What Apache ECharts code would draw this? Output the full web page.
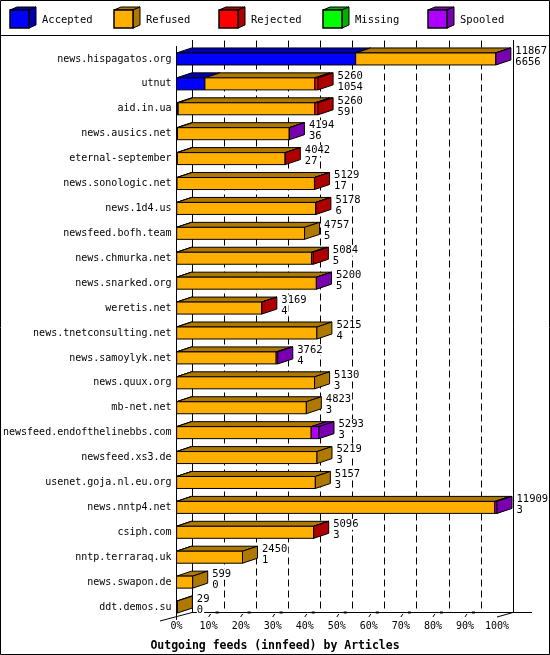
<!DOCTYPE html>
<html>
<head>
<meta charset="UTF-8">
<title>innfeed</title>
<script src="https://cdn.jsdelivr.net/npm/echarts@6/dist/echarts.min.js"></script>
<style>
  body { margin: 0; background: #fff; }
</style>
</head>
<body>
<div id="main" style="width:550px;height:655px;"></div>
<script>
// feeds, top to bottom
const hosts = [
  'news.hispagatos.org', 'utnut', 'aid.in.ua', 'news.ausics.net', 'eternal-september',
  'news.sonologic.net', 'news.1d4.us', 'newsfeed.bofh.team', 'news.chmurka.net',
  'news.snarked.org', 'weretis.net', 'news.tnetconsulting.net', 'news.samoylyk.net',
  'news.quux.org', 'mb-net.net', 'newsfeed.endofthelinebbs.com', 'newsfeed.xs3.de',
  'usenet.goja.nl.eu.org', 'news.nntp4.net', 'csiph.com', 'nntp.terraraq.uk',
  'news.swapon.de', 'ddt.demos.su'
]
// offered articles (first number on the right)
const offered = [11867, 5260, 5260, 4194, 4042, 5129, 5178, 4757, 5084, 5200, 3169, 5215,
  3762, 5130, 4823, 5293, 5219, 5157, 11909, 5096, 2450, 599, 29]
// stacked parts
const accepted = [6656, 1054, 59, 36, 27, 17, 6, 5, 5, 5, 4, 4, 4, 3, 3, 3, 3, 3, 3, 3, 1, 0, 0]
const refused = [5201, 4086, 5081, 4153, 4010, 5107, 5162, 4752, 5009, 5190, 3160, 5211,
  3698, 5127, 4820, 5000, 5216, 5154, 11826, 5088, 2449, 599, 29]
const rejected = [0, 120, 120, 0, 5, 5, 10, 0, 70, 0, 5, 0, 0, 0, 0, 0, 0, 0, 0, 5, 0, 0, 0]
const missing = [0, 0, 0, 0, 0, 0, 0, 0, 0, 0, 0, 0, 0, 0, 0, 0, 0, 0, 0, 0, 0, 0, 0]
const spooled = [10, 0, 0, 5, 0, 0, 0, 0, 0, 5, 0, 0, 60, 0, 0, 290, 0, 0, 80, 0, 0, 0, 0]

const segNames = ['Accepted', 'Refused', 'Rejected', 'Missing', 'Spooled']
const segValues = [accepted, refused, rejected, missing, spooled]
const frontColor = ['#0000FF', '#FFAF00', '#FF0000', '#00FF00', '#AF00FF']
const darkColor = ['#0000AF', '#AF7800', '#AF0000', '#00AF00', '#7800AF']

const FONT = 'DejaVu Sans Mono'
// depth of the bars
const DX = 15, DY = -5
const HALF = 6

const maxTotal = Math.max(...offered)
const pct = v => v / maxTotal * 100

// data per stacked series: [start%, end%, row, isLast]
const segData = segNames.map(() => [])
const endData = []
hosts.forEach((h, i) => {
  let last = 1
  segValues.forEach((vals, k) => { if (vals[i] > 0) last = k })
  let acc = 0
  segValues.forEach((vals, k) => {
    const v = vals[i]
    if (v > 0 || k === last) {
      segData[k].push([pct(acc), pct(acc + v), i, k === last ? 1 : 0])
    }
    acc += v
  })
  endData.push([pct(acc), i, offered[i], accepted[i]])
})

function renderSeg(k) {
  return function (params, api) {
    const s = api.coord([api.value(0), api.value(2)])
    const e = api.coord([api.value(1), api.value(2)])
    const y = s[1]
    const stroke = { stroke: '#000', lineWidth: 1 }
    const children = [
      {
        type: 'polygon',
        shape: { points: [[s[0], y - HALF], [s[0] + DX, y - HALF + DY], [e[0] + DX, y - HALF + DY], [e[0], y - HALF]] },
        style: Object.assign({ fill: darkColor[k] }, stroke)
      },
      {
        type: 'rect',
        shape: { x: s[0], y: y - HALF, width: e[0] - s[0], height: HALF * 2 },
        style: Object.assign({ fill: frontColor[k] }, stroke)
      }
    ]
    if (api.value(3) === 1) {
      children.push({
        type: 'polygon',
        shape: { points: [[e[0], y - HALF], [e[0] + DX, y - HALF + DY], [e[0] + DX, y + HALF + DY], [e[0], y + HALF]] },
        style: Object.assign({ fill: darkColor[k] }, stroke)
      })
    }
    return { type: 'group', children: children }
  }
}

const series = segNames.map((name, k) => ({
  name: name,
  type: 'custom',
  xAxisIndex: 0,
  yAxisIndex: 0,
  encode: { x: [0, 1], y: 2 },
  data: segData[k],
  renderItem: renderSeg(k)
}))

// numbers at the end of every bar (white box hides the grid lines)
series.push({
  type: 'custom',
  xAxisIndex: 0,
  yAxisIndex: 0,
  encode: { x: 0, y: 1 },
  data: endData,
  renderItem: function (params, api) {
    const p = api.coord([api.value(0), api.value(1)])
    const x = p[0] + DX + 4.5
    const font = '10.5px "' + FONT + '"'
    const lbl = (txt, yy) => ({
      type: 'text',
      style: {
        x: x, y: yy, text: txt, font: font, fill: '#000', verticalAlign: 'middle',
        backgroundColor: '#fff', padding: [0, 1, 0, 0]
      }
    })
    return {
      type: 'group',
      children: [lbl(String(api.value(2)), p[1] - 8), lbl(String(api.value(3)), p[1] + 3)]
    }
  }
})

// the little slanted ticks on the floor
series.push({
  type: 'custom',
  xAxisIndex: 0,
  yAxisIndex: 0,
  encode: { x: 0 },
  data: [10, 20, 30, 40, 50, 60, 70, 80, 90].map(v => [v, 0]),
  renderItem: function (params, api) {
    const p = api.coord([api.value(0), 0])
    const b = params.coordSys.y + params.coordSys.height
    return {
      type: 'group',
      children: [
        { type: 'line', shape: { x1: p[0], y1: b - 2.5, x2: p[0] + 2, y2: b - 5.5 }, style: { stroke: '#000', lineWidth: 1 } },
        { type: 'rect', shape: { x: p[0] + 7, y: b - 8, width: 3, height: 2 }, style: { fill: '#000' } }
      ]
    }
  }
})

// legend boxes, drawn by hand
const legendX = [10, 114, 219, 323, 428]
const legendGraphics = []
segNames.forEach((name, k) => {
  const x = legendX[k], y = 10, w = 19, h = 18, dx = 7, dy = -3
  legendGraphics.push(
    { type: 'polygon', shape: { points: [[x, y], [x + dx, y + dy], [x + w + dx, y + dy], [x + w, y]] }, style: { fill: darkColor[k], stroke: '#000', lineWidth: 1 } },
    { type: 'polygon', shape: { points: [[x + w, y], [x + w + dx, y + dy], [x + w + dx, y + h + dy], [x + w, y + h]] }, style: { fill: darkColor[k], stroke: '#000', lineWidth: 1 } },
    { type: 'rect', shape: { x: x, y: y, width: w, height: h }, style: { fill: frontColor[k], stroke: '#000', lineWidth: 1.5 } },
    { type: 'text', style: { x: x + 32, y: 20, text: name, font: '10.5px "' + FONT + '"', fill: '#000', verticalAlign: 'middle' } }
  )
})

const chart = echarts.init(document.getElementById('main'))
chart.setOption({
  animation: false,
  backgroundColor: '#fff',
  textStyle: { fontFamily: FONT },
  title: {
    text: 'Outgoing feeds (innfeed) by Articles',
    left: 'center',
    top: 635,
    textStyle: { fontFamily: FONT, fontSize: 11.5, fontWeight: 'bold', color: '#000' }
  },
  grid: [
    { left: 176, top: 46.5, width: 321, height: 573 },
    { left: 192, top: 40.5, width: 321, height: 572 }
  ],
  xAxis: [
    {
      gridIndex: 0, type: 'value', min: 0, max: 100, interval: 10,
      axisLine: { show: false }, axisTick: { show: false }, splitLine: { show: false },
      axisLabel: { formatter: '{value}%', margin: 2, color: '#000', fontFamily: FONT, fontSize: 10 }
    },
    {
      gridIndex: 1, type: 'value', min: 0, max: 100, interval: 10,
      axisLine: { show: true, lineStyle: { color: '#000', width: 1 } },
      axisTick: { show: false }, axisLabel: { show: false },
      splitLine: { show: true, lineStyle: { color: '#000', width: 1, type: [7, 4] } }
    }
  ],
  yAxis: [
    {
      gridIndex: 0, type: 'category', data: hosts, inverse: true,
      axisLine: { show: true, lineStyle: { color: '#000', width: 1 } },
      axisTick: { show: false }, splitLine: { show: false },
      axisLabel: { margin: 5, color: '#000', fontFamily: FONT, fontSize: 10 }
    },
    {
      gridIndex: 1, type: 'category', data: hosts, inverse: true,
      axisLine: { show: true, lineStyle: { color: '#000', width: 1 } },
      axisTick: { show: false }, axisLabel: { show: false }, splitLine: { show: false }
    },
    {
      gridIndex: 1, type: 'category', data: hosts, inverse: true, position: 'right',
      axisLine: { show: true, lineStyle: { color: '#000', width: 1 } },
      axisTick: { show: false }, axisLabel: { show: false }, splitLine: { show: false }
    }
  ],
  graphic: [
    { type: 'rect', shape: { x: 0.5, y: 0.5, width: 549, height: 654 }, style: { fill: null, stroke: '#000', lineWidth: 1 }, z: 100 },
    { type: 'line', shape: { x1: 0, y1: 35.5, x2: 550, y2: 35.5 }, style: { stroke: '#000', lineWidth: 1 } },
    // floor edges
    { type: 'line', shape: { x1: 160, y1: 621, x2: 192, y2: 612.5 }, style: { stroke: '#000', lineWidth: 1 } },
    { type: 'line', shape: { x1: 497, y1: 617, x2: 513, y2: 612.5 }, style: { stroke: '#000', lineWidth: 1 } },
    { type: 'line', shape: { x1: 513, y1: 612.5, x2: 532, y2: 612.5 }, style: { stroke: '#000', lineWidth: 1 } }
  ].concat(legendGraphics),
  series: series
})
</script>
</body>
</html>
